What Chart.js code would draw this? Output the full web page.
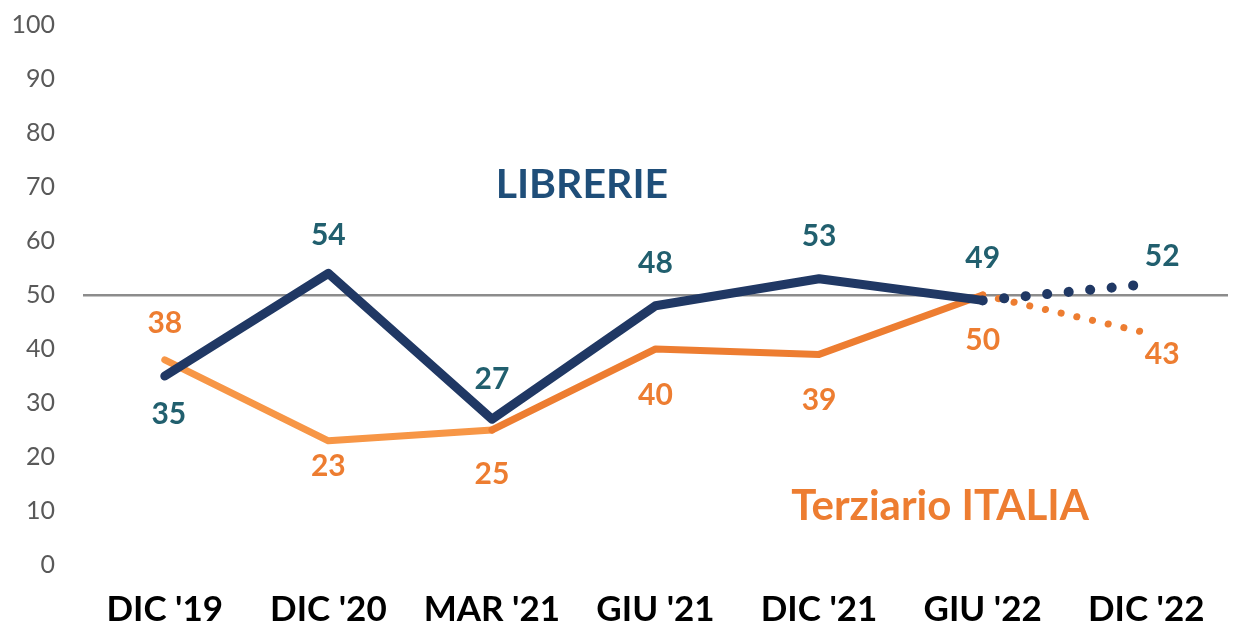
<!DOCTYPE html>
<html>
<head>
<meta charset="utf-8">
<script src="https://cdn.jsdelivr.net/npm/chart.js@4/dist/chart.umd.min.js"></script>
<style>
    html, body { margin: 0; padding: 0; background: #ffffff; }
    #wrap { width: 1238px; height: 625px; }
</style>
</head>
<body>
<div id="wrap"><canvas id="chart"></canvas></div>
<script>
var periods = ["DIC '19", "DIC '20", "MAR '21", "GIU '21", "DIC '21", "GIU '22", "DIC '22"];
var librerie = [35, 54, 27, 48, 53, 49, 52];
var terziario = [38, 23, 25, 40, 39, 50, 43];
var yTicks = [0, 10, 20, 30, 40, 50, 60, 70, 80, 90, 100];

var NAVY = "#203864";
var TEAL = "#215F6E";
var ORANGE = "#ED7D31";
var ORANGE_LIGHT = "#F79646";
var FONT = "Lato, 'DejaVu Sans', sans-serif";

// label placement per point (dx, dy in px from the point)
var labelOffsets = [
    [[4, 38], [0, -38], [0, -40], [0, -42], [0, -42], [0, -42], [16, -28]],
    [[0, -36], [0, 26], [0, 44], [0, 46], [0, 46], [0, 45], [16, 22]]
];
var labelColors = [TEAL, ORANGE];

var valueLabels = {
    id: "valueLabels",
    afterDatasetsDraw: function(chart)
    {
        var ctx = chart.ctx;
        ctx.save();
        ctx.font = "bold 30px " + FONT;
        ctx.textAlign = "center";
        ctx.textBaseline = "middle";
        chart.data.datasets.forEach(function(ds, d) {
            var meta = chart.getDatasetMeta(d);
            meta.data.forEach(function(pt, i) {
                var off = labelOffsets[d][i];
                ctx.fillStyle = labelColors[d];
                ctx.fillText(ds.data[i], pt.x + off[0], pt.y + off[1]);
            });
        });
        ctx.restore();
    }
};

var seriesNames = {
    id: "seriesNames",
    afterDatasetsDraw: function(chart)
    {
        var ctx = chart.ctx;
        var x = chart.scales.x, y = chart.scales.y;
        ctx.save();
        ctx.textAlign = "center";
        ctx.textBaseline = "middle";
        ctx.font = "bold 41px " + FONT;
        ctx.fillStyle = "#1F4E79";
        ctx.fillText("LIBRERIE", x.getPixelForValue(2.55), y.getPixelForValue(70.5));
        ctx.font = "bold 42px " + FONT;
        ctx.fillStyle = ORANGE;
        ctx.fillText("Terziario ITALIA", x.getPixelForValue(4.74), y.getPixelForValue(10.8));
        ctx.restore();
    }
};

new Chart(document.getElementById("chart"), {
    type: "line",
    data: {
        labels: periods,
        datasets: [{
            label: "LIBRERIE",
            data: librerie,
            borderColor: NAVY,
            borderWidth: 9,
            borderCapStyle: "round",
            borderJoinStyle: "round",
            pointRadius: 0,
            tension: 0,
            segment: {
                borderDash: function(c) { return c.p1DataIndex === 6 ? [0.1, 21.5] : undefined; },
                borderWidth: function(c) { return c.p1DataIndex === 6 ? 10 : 9; }
            }
        }, {
            label: "Terziario ITALIA",
            data: terziario,
            borderColor: ORANGE,
            borderWidth: 7,
            borderCapStyle: "round",
            borderJoinStyle: "round",
            pointRadius: 0,
            tension: 0,
            segment: {
                borderColor: function(c) { return c.p0DataIndex < 2 ? ORANGE_LIGHT : ORANGE; },
                borderDash: function(c) { return c.p1DataIndex === 6 ? [0.1, 16] : undefined; }
            }
        }]
    },
    options: {
        responsive: true,
        maintainAspectRatio: false,
        animation: false,
        layout: { padding: { top: 25, right: 10, left: 0, bottom: 0 } },
        plugins: {
            legend: { display: false },
            tooltip: { enabled: false }
        },
        scales: {
            x: {
                offset: true,
                grid: { display: false, drawTicks: false },
                border: { display: false },
                ticks: {
                    color: "#000000",
                    font: { family: FONT, size: 35, weight: "bold" },
                    padding: 24,
                    maxRotation: 0,
                    autoSkip: false
                },
                afterFit: function(scale) { scale.height = 60; }
            },
            y: {
                min: 0,
                max: 100,
                afterBuildTicks: function(scale) {
                    scale.ticks = yTicks.map(function(v) { return { value: v }; });
                },
                grid: {
                    drawTicks: false,
                    lineWidth: 2.5,
                    color: function(c) { return c.tick && c.tick.value === 50 ? "#8C8C8C" : "rgba(0,0,0,0)"; }
                },
                border: { display: false },
                ticks: {
                    color: "#595959",
                    font: { family: FONT, size: 25 },
                    padding: 28
                },
                afterFit: function(scale) {
                    scale.width = 83;
                    scale.paddingTop = 0;
                    scale.paddingBottom = 0;
                }
            }
        }
    },
    plugins: [valueLabels, seriesNames]
});
</script>
</body>
</html>
